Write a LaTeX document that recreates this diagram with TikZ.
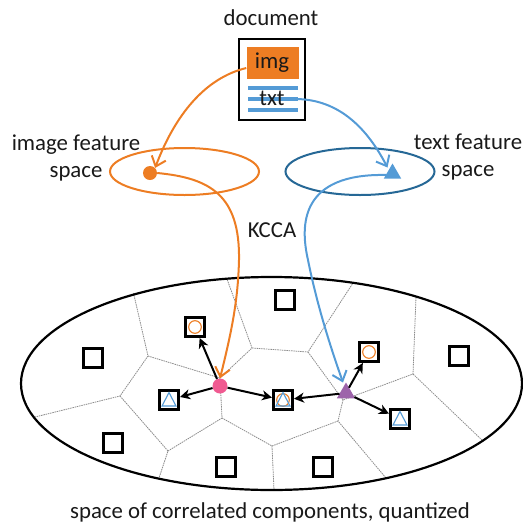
\documentclass[tikz,border=0pt]{standalone}
\usepackage{fontspec}
\setmainfont{Carlito}
\usetikzlibrary{arrows.meta,shapes.geometric}
\definecolor{ora}{RGB}{237,125,35}
\definecolor{blu}{RGB}{84,155,214}
\definecolor{dkb}{RGB}{38,104,150}
\definecolor{pnk}{RGB}{240,90,145}
\definecolor{pur}{RGB}{157,100,170}
\tikzset{
 lab/.style={font=\fontsize{22.8}{26}\selectfont,inner sep=0pt,text=black!90,anchor=base},
 vor/.style={draw=black!45,line width=0.8pt,dash pattern=on 1.5pt off 0.8pt},
 sq/.style={draw=black,line width=3pt,minimum size=19pt,inner sep=0pt,outer sep=1.5pt,fill=white},
 ico/.style={line width=1.1pt},
 cur/.style={line width=2pt,-{Straight Barb[length=9pt,width=15pt,line width=2pt]}},
 nn/.style={line width=2pt,-{Stealth[length=10pt,width=10pt,inset=3pt]},black},
 tri/.style={regular polygon,regular polygon sides=3,inner sep=0pt,outer sep=0pt},
}
\begin{document}
\begin{tikzpicture}[x=1pt,y=-1pt]
\useasboundingbox (0,0) rectangle (523,523);
% Voronoi vertices
\coordinate (a) at (148,356);
\coordinate (b) at (120,396);
\coordinate (c) at (168,451);
\coordinate (d) at (222,418);
\coordinate (e) at (272,446);
\coordinate (f) at (338,421);
\coordinate (g) at (343,400);
\coordinate (h) at (413,374);
\coordinate (i) at (308,352);
\coordinate (j) at (252,348);
\coordinate (k) at (220,378);
\draw[vor] (133.5,293) -- (a) -- (b) -- (35,417);
\draw[vor] (b) -- (c) -- (159,478);
\draw[vor] (c) -- (d) -- (k) -- (a);
\draw[vor] (k) -- (j) -- (227,279);
\draw[vor] (j) -- (i) -- (353,283);
\draw[vor] (i) -- (g) -- (h) -- (416,297);
\draw[vor] (h) -- (483,441);
\draw[vor] (g) -- (f) -- (386,478);
\draw[vor] (f) -- (e) -- (d);
\draw[vor] (e) -- (274,490);
% Ellipses
\node[draw=black,line width=2.2pt,ellipse,inner sep=0pt,minimum width=501pt,minimum height=213pt] (big) at (271.5,383.5) {};
\node[draw=ora,line width=2pt,ellipse,inner sep=0pt,minimum width=149pt,minimum height=47pt] (ie) at (184.5,171.5) {};
\node[draw=dkb,line width=2pt,ellipse,inner sep=0pt,minimum width=149pt,minimum height=47pt] (te) at (360,171.5) {};
% Document
\node[draw=black,line width=2pt,fill=white,minimum width=66pt,minimum height=81pt,inner sep=0pt] (doc) at (272,79.5) {};
\node[fill=ora,minimum width=52pt,minimum height=32pt,inner sep=0pt] (imgb) at (272.5,63) {};
\foreach \yy in {88,99,110}{\draw[blu,line width=3.5pt] (248,\yy) -- (298,\yy);}
\node[lab] (img) at (272,68) {img};
\node[lab] (txt) at (272,105) {txt};
% Labels
\node[lab] (l1) at (271,25) {document};
\node[lab] (l2) at (76,150) {image feature};
\node[lab] (l3) at (76,177) {space};
\node[lab] (l4) at (468,149) {text feature};
\node[lab] (l5) at (468,176) {space};
\node[lab] (l6) at (272,237) {KCCA};
\node[lab] (l7) at (270,518) {space of correlated components, quantized};
% Feature points
\node[circle,fill=ora,minimum size=14pt,inner sep=0pt] (od) at (150,173) {};
\node[tri,fill=blu,minimum size=20pt] (bt) at (392.5,173.5) {};
% Squares
\node[sq] (s1) at (285,300) {};
\node[sq] (s2) at (93,358) {};
\node[sq] (s3) at (459,356) {};
\node[sq] (s4) at (113,443) {};
\node[sq] (s5) at (226,467) {};
\node[sq] (s6) at (323,467) {};
\node[sq] (q1) at (195,327) {};
\node[sq] (q2) at (369,352) {};
\node[sq] (q3) at (169,400) {};
\node[sq] (q4) at (283,400) {};
\node[sq] (q5) at (400,419) {};
\foreach \p in {q1,q2,q4}{\draw[ora,ico] (\p.center) circle (6.3pt);}
\foreach \p in {q3,q4,q5}{\draw[blu,ico] ([shift={(0,-7.5)}]\p.center) -- ([shift={(7,6)}]\p.center) -- ([shift={(-7,6)}]\p.center) -- cycle;}
% Centres
\node[circle,fill=pnk,minimum size=15pt,inner sep=0pt] (pd) at (220,386) {};
\node[tri,fill=pur,minimum size=21pt] (pt) at (346,393) {};
% Neighbour arrows
\draw[nn] (pd) -- (q1);
\draw[nn] (pd) -- (q3);
\draw[nn] (pd) -- (q4);
\draw[nn] (pt) -- (q4);
\draw[nn] (pt) -- (q2);
\draw[nn] (pt) -- (q5);
% Curves
\draw[cur,ora] (imgb.west |- 0,68) .. controls (205,78) and (175,115) .. (od.north east);
\draw[cur,blu] (295,99) .. controls (340,99) and (368,130) .. ([shift={(-5,4)}]bt.north);
\draw[cur,ora] (od.east) .. controls (210,178) and (240,195) .. (239,260) .. controls (238,300) and (232,330) .. (pd.north);
\draw[cur,blu] (bt.west |- 0,175) .. controls (300,173) and (300,225) .. (308,260) .. controls (316,300) and (328,340) .. ([shift={(-3,0)}]pt.north);
\end{tikzpicture}
\end{document}
